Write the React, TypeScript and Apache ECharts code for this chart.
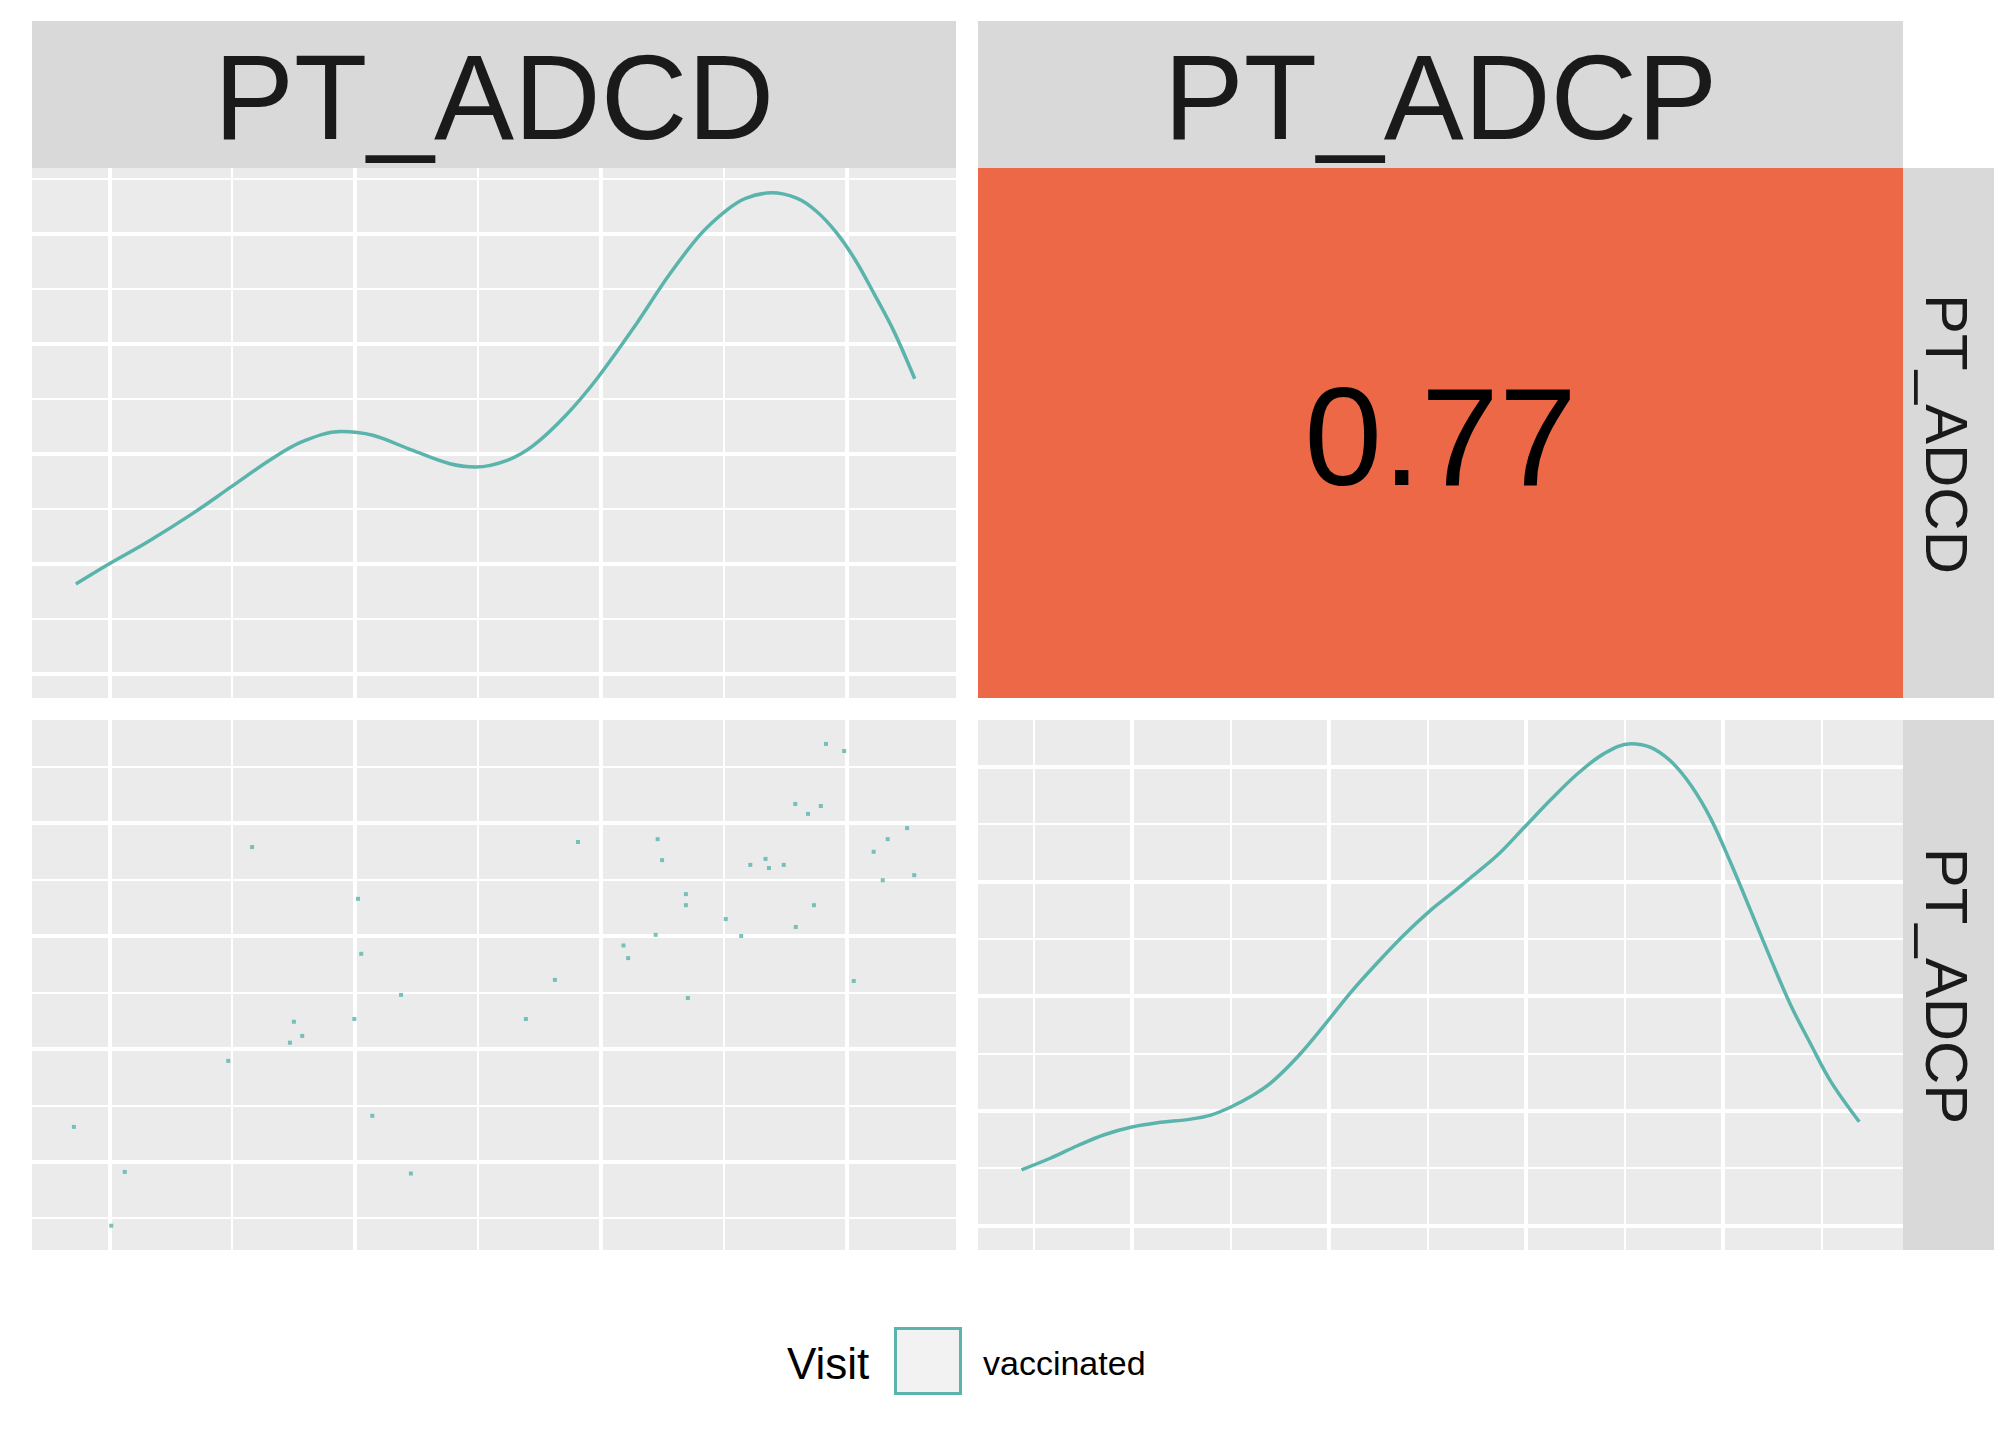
import React, { useEffect, useRef } from "react";
import * as echarts from "echarts";

// ---------- data ----------
const variables = ["PT_ADCD", "PT_ADCP"];
const legendTitle = "Visit";
const visitLevels = ["vaccinated"];
const corValue = 0.77;

// scatter: PT_ADCD (x) vs PT_ADCP (y)
const scatterADCD = [
  4.916, 4.99, 4.791, 4.895, 4.843, 5.246, 5.167, 5.11, 5.275, 5.147,
  2.581, 3.907, 4.231, 4.249, 4.608, 4.67, 4.684, 4.744, 3.012, 4.346,
  4.346, 4.867, 4.508, 4.793, 4.223, 4.571, 4.092, 4.111, 3.025, 3.813,
  5.029, 3.187, 4.354, 3.695, 2.997, 2.751, 2.785, 2.735, 2.484, 3.07,
  1.856, 2.063, 3.227, 2.008,
];
const scatterADCP = [
  5.703, 5.64, 5.171, 5.153, 5.083, 4.957, 4.859, 4.747, 4.54, 4.495,
  4.789, 4.834, 4.859, 4.673, 4.631, 4.684, 4.603, 4.631, 4.33, 4.372,
  4.274, 4.274, 4.151, 4.081, 4.011, 4.001, 3.917, 3.805, 3.843, 3.612,
  3.602, 3.479, 3.451, 3.265, 3.265, 3.241, 3.115, 3.055, 2.894, 2.407,
  2.309, 1.91, 1.896, 1.433,
];

// density of PT_ADCD (top-left diagonal)
const densADCDx = [
  1.864, 2.0, 2.157, 2.34, 2.497, 2.654, 2.785, 2.942, 3.072, 3.229,
  3.386, 3.491, 3.622, 3.726, 3.857, 3.988, 4.145, 4.276, 4.406, 4.511,
  4.589, 4.694, 4.799, 4.877, 4.956, 5.034, 5.112, 5.191, 5.277,
];
const densADCDy = [
  0.1818, 0.2002, 0.2203, 0.2461, 0.2704, 0.2946, 0.3113, 0.3205, 0.3171, 0.3038,
  0.2912, 0.2883, 0.2946, 0.3079, 0.3351, 0.3697, 0.4186, 0.4624, 0.5, 0.5217,
  0.5326, 0.5376, 0.5326, 0.5209, 0.5021, 0.477, 0.4457, 0.4123, 0.3685,
];

// density of PT_ADCP (bottom-right diagonal)
const densADCPx = [
  1.439, 1.588, 1.723, 1.859, 1.994, 2.129, 2.299, 2.4, 2.502, 2.603,
  2.705, 2.84, 2.975, 3.111, 3.246, 3.381, 3.517, 3.618, 3.72, 3.855,
  3.991, 4.126, 4.261, 4.397, 4.532, 4.634, 4.735, 4.837, 4.938, 5.04,
  5.142, 5.243, 5.345, 5.446, 5.547, 5.693,
];
const densADCPy = [
  0.1484, 0.1587, 0.1694, 0.179, 0.1855, 0.1894, 0.1926, 0.1961, 0.2032, 0.2123,
  0.2242, 0.2468, 0.2742, 0.3032, 0.329, 0.3532, 0.3748, 0.3887, 0.4032, 0.4226,
  0.4468, 0.471, 0.4935, 0.5113, 0.52, 0.5168, 0.5048, 0.4839, 0.4548, 0.4161,
  0.3742, 0.3323, 0.2919, 0.2581, 0.2258, 0.1903,
];

// axis ranges and break positions (no labels drawn in the reference)
const adcdRange = [1.6855, 5.445];
const adcpRange = [1.218, 5.915];
const densTopRange = [0.0782, 0.5602];
const densBottomRange = [0.0785, 0.5406];

const adcdMajor = [2, 3, 4, 5];
const adcdMinor = [2.5, 3.5, 4.5];
const adcpMajor = [2, 3, 4, 5];
const adcpMinor = [1.5, 2.5, 3.5, 4.5, 5.5];
const densMajor = [0.1, 0.2, 0.3, 0.4, 0.5];
const densTopMinor = [0.15, 0.25, 0.35, 0.45, 0.55];
const densBottomMinor = [0.15, 0.25, 0.35, 0.45];

// ---------- styling ----------
const TEAL = "#5AB4AC";
const PANEL_BG = "#EBEBEB";
const STRIP_BG = "#D9D9D9";
const COR_FILL = "#EC6847";
const FONT = '"Liberation Sans", Arial, Helvetica, sans-serif';

const COLS = [
  { left: 32, width: 924 },
  { left: 978, width: 925 },
];
const ROWS = [
  { top: 168, height: 530 },
  { top: 720, height: 530 },
];

function gridLineSeries(
  idx: number,
  xMaj: number[],
  xMin: number[],
  yMaj: number[],
  yMin: number[],
  anchor: number[]
) {
  const major = { color: "#FFFFFF", width: 4, type: "solid", opacity: 1 };
  const minor = { color: "#FFFFFF", width: 2, type: "solid", opacity: 1 };
  return {
    type: "line",
    xAxisIndex: idx,
    yAxisIndex: idx,
    data: [anchor],
    showSymbol: false,
    symbol: "none",
    silent: true,
    z: 1,
    lineStyle: { opacity: 0 },
    markLine: {
      z: 1,
      silent: true,
      symbol: ["none", "none"],
      label: { show: false },
      emphasis: { disabled: true },
      animation: false,
      data: [
        ...xMin.map((v) => ({ xAxis: v, lineStyle: minor })),
        ...yMin.map((v) => ({ yAxis: v, lineStyle: minor })),
        ...xMaj.map((v) => ({ xAxis: v, lineStyle: major })),
        ...yMaj.map((v) => ({ yAxis: v, lineStyle: major })),
      ],
    },
  };
}

function zip(a: number[], b: number[]) {
  return a.map((v, i) => [v, b[i]]);
}

export default function App() {
  const ref = useRef<HTMLDivElement>(null);

  useEffect(() => {
    if (!ref.current) return;
    const chart = echarts.init(ref.current, undefined, { renderer: "svg" });

    const grids = [
      { left: COLS[0].left, top: ROWS[0].top, width: COLS[0].width, height: ROWS[0].height, bg: PANEL_BG },
      { left: COLS[1].left, top: ROWS[0].top, width: COLS[1].width, height: ROWS[0].height, bg: COR_FILL },
      { left: COLS[0].left, top: ROWS[1].top, width: COLS[0].width, height: ROWS[1].height, bg: PANEL_BG },
      { left: COLS[1].left, top: ROWS[1].top, width: COLS[1].width, height: ROWS[1].height, bg: PANEL_BG },
    ].map((g) => ({
      left: g.left,
      top: g.top,
      width: g.width,
      height: g.height,
      show: true,
      backgroundColor: g.bg,
      borderWidth: 0,
      containLabel: false,
    }));

    const hiddenAxis = (gridIndex: number, range: number[]) => ({
      type: "value",
      gridIndex,
      min: range[0],
      max: range[1],
      show: false,
      splitLine: { show: false },
    });

    const xAxes = [
      hiddenAxis(0, adcdRange),
      hiddenAxis(1, [0, 1]),
      hiddenAxis(2, adcdRange),
      hiddenAxis(3, adcpRange),
    ];
    const yAxes = [
      hiddenAxis(0, densTopRange),
      hiddenAxis(1, [0, 1]),
      hiddenAxis(2, adcpRange),
      hiddenAxis(3, densBottomRange),
    ];

    const series: any[] = [
      gridLineSeries(0, adcdMajor, adcdMinor, densMajor, densTopMinor, [densADCDx[0], densADCDy[0]]),
      gridLineSeries(2, adcdMajor, adcdMinor, adcpMajor, adcpMinor, [scatterADCD[0], scatterADCP[0]]),
      gridLineSeries(3, adcpMajor, adcpMinor, densMajor, densBottomMinor, [densADCPx[0], densADCPy[0]]),
      {
        type: "line",
        name: visitLevels[0],
        xAxisIndex: 0,
        yAxisIndex: 0,
        data: zip(densADCDx, densADCDy),
        showSymbol: false,
        symbol: "none",
        smooth: 0.35,
        z: 10,
        lineStyle: { color: TEAL, width: 3.5 },
        silent: true,
      },
      {
        type: "scatter",
        name: visitLevels[0],
        xAxisIndex: 2,
        yAxisIndex: 2,
        data: zip(scatterADCD, scatterADCP),
        symbol: "rect",
        symbolSize: 4,
        z: 10,
        itemStyle: { color: TEAL },
        silent: true,
      },
      {
        type: "line",
        name: visitLevels[0],
        xAxisIndex: 3,
        yAxisIndex: 3,
        data: zip(densADCPx, densADCPy),
        showSymbol: false,
        symbol: "none",
        smooth: 0.35,
        z: 10,
        lineStyle: { color: TEAL, width: 3.5 },
        silent: true,
      },
    ];

    const stripText = "#1A1A1A";
    const graphic: any[] = [
      // top strips
      { type: "rect", shape: { x: COLS[0].left, y: 21, width: COLS[0].width, height: 147 }, style: { fill: STRIP_BG }, silent: true },
      { type: "rect", shape: { x: COLS[1].left, y: 21, width: COLS[1].width, height: 147 }, style: { fill: STRIP_BG }, silent: true },
      // right strips
      { type: "rect", shape: { x: 1903, y: ROWS[0].top, width: 91, height: ROWS[0].height }, style: { fill: STRIP_BG }, silent: true },
      { type: "rect", shape: { x: 1903, y: ROWS[1].top, width: 91, height: ROWS[1].height }, style: { fill: STRIP_BG }, silent: true },
      // top strip labels
      ...variables.map((v, i) => ({
        type: "text",
        x: COLS[i].left + COLS[i].width / 2,
        y: 97,
        silent: true,
        style: { text: v, fontSize: 120, fontFamily: FONT, fill: stripText, align: "center", verticalAlign: "middle" },
      })),
      // right strip labels
      ...variables.map((v, i) => ({
        type: "text",
        x: 1946,
        y: ROWS[i].top + ROWS[i].height / 2 + 1,
        rotation: -Math.PI / 2,
        silent: true,
        style: { text: v, fontSize: 60, fontFamily: FONT, fill: stripText, align: "center", verticalAlign: "middle" },
      })),
      // correlation value
      {
        type: "text",
        x: COLS[1].left + COLS[1].width / 2,
        y: 436,
        z: 10,
        silent: true,
        style: { text: corValue.toFixed(2), fontSize: 140, fontFamily: FONT, fill: "#000000", align: "center", verticalAlign: "middle" },
      },
      // legend
      {
        type: "text",
        x: 787,
        y: 1363,
        silent: true,
        style: { text: legendTitle, fontSize: 44, fontFamily: FONT, fill: "#000000", align: "left", verticalAlign: "middle" },
      },
      {
        type: "rect",
        shape: { x: 895.5, y: 1328.5, width: 65, height: 65 },
        style: { fill: "#F2F2F2", stroke: TEAL, lineWidth: 3 },
        silent: true,
      },
      {
        type: "text",
        x: 983,
        y: 1363,
        silent: true,
        style: { text: visitLevels[0], fontSize: 34, fontFamily: FONT, fill: "#000000", align: "left", verticalAlign: "middle" },
      },
    ];

    chart.setOption({
      animation: false,
      backgroundColor: "#FFFFFF",
      grid: grids,
      xAxis: xAxes,
      yAxis: yAxes,
      series,
      graphic,
    });

    return () => chart.dispose();
  }, []);

  return (
    <div
      ref={ref}
      style={{ position: "fixed", left: 0, top: 0, width: 2016, height: 1440, background: "#FFFFFF" }}
    />
  );
}
